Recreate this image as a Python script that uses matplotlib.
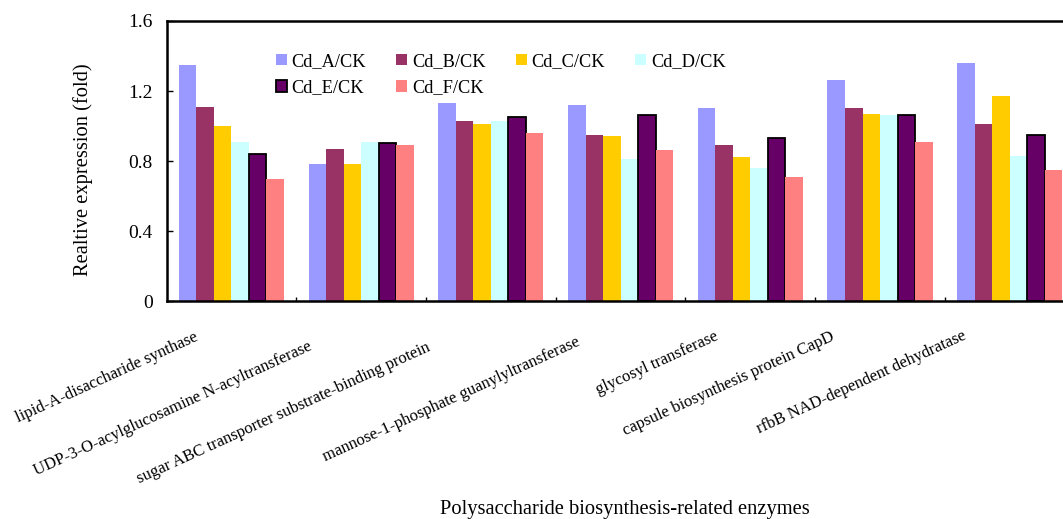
import matplotlib
matplotlib.use("Agg")
import matplotlib.pyplot as plt
import matplotlib.patches as pat
import numpy as np

plt.rcParams['font.family'] = ['Liberation Serif', 'DejaVu Serif']

enzymes = ["lipid-A-disaccharide synthase",
           "UDP-3-O-acylglucosamine N-acyltransferase",
           "sugar ABC transporter substrate-binding protein",
           "mannose-1-phosphate guanylyltransferase",
           "glycosyl transferase",
           "capsule biosynthesis protein CapD",
           "rfbB NAD-dependent dehydratase"]
series = ["Cd_A/CK", "Cd_B/CK", "Cd_C/CK", "Cd_D/CK", "Cd_E/CK", "Cd_F/CK"]
cd_a = [1.35, 0.78, 1.13, 1.12, 1.10, 1.26, 1.36]
cd_b = [1.11, 0.87, 1.03, 0.95, 0.89, 1.10, 1.01]
cd_c = [1.00, 0.78, 1.01, 0.94, 0.82, 1.07, 1.17]
cd_d = [0.91, 0.91, 1.03, 0.81, 0.76, 1.06, 0.83]
cd_e = [0.84, 0.90, 1.05, 1.06, 0.93, 1.06, 0.95]
cd_f = [0.70, 0.89, 0.96, 0.86, 0.71, 0.91, 0.75]
yticks = [0, 0.4, 0.8, 1.2, 1.6]
ytick_labels = ["0", "0.4", "0.8", "1.2", "1.6"]

colors = ["#9999FF", "#993366", "#FFCC00", "#CCFFFF", "#660066", "#FF8080"]
edges = ["none", "none", "none", "none", "black", "none"]
# label anchor shifts in pixels (dx, dy below axis)
label_shift = [(-33, 39), (-48, 48), (-60, 49), (-40, 44), (-31, 38), (-45, 39), (-43, 38)]

fig = plt.figure(figsize=(10.63, 5.19), dpi=100)
W, H = 1063, 519
ax = fig.add_axes([166.6 / W, (H - 301) / H, 908 / W, 280 / H])

x = np.arange(len(enzymes))
w = 0.135
data = [cd_a, cd_b, cd_c, cd_d, cd_e, cd_f]
for i, vals in enumerate(data):
    ax.bar(x + (i - 2.5) * w, vals, w, color=colors[i],
           edgecolor=edges[i], linewidth=1.3 if edges[i] != "none" else 0, zorder=1)

ax.set_xlim(-0.5, len(enzymes) - 0.5)
ax.set_ylim(0, 1.6)
ax.set_yticks(yticks)
ax.set_yticklabels(ytick_labels, fontsize=14)
ax.tick_params(axis='y', direction='in', length=4.5, width=1, pad=10)
ax.set_xticks(np.arange(0.5, len(enzymes) - 0.5))
ax.set_xticklabels([])
ax.tick_params(axis='x', direction='in', length=3, width=1)
for s in ax.spines.values():
    s.set_linewidth(1.8)

for i, name in enumerate(enzymes):
    dx, dy = label_shift[i]
    ax.annotate(name, xy=(x[i], 0), xycoords='data',
                xytext=(dx * 0.72, -dy * 0.72), textcoords='offset points',
                rotation=24.5, rotation_mode='anchor', ha='right', va='baseline',
                fontsize=12, annotation_clip=False)

ax.set_ylabel("Realtive expression (fold)", fontsize=14.8)
ax.yaxis.set_label_coords(-0.081, 0.47)
fig.text(625 / W, (H - 514) / H, "Polysaccharide biosynthesis-related enzymes",
         ha='center', va='baseline', fontsize=14.8)

handles = [pat.Patch(facecolor=colors[i], edgecolor=edges[i] if edges[i] != "none" else colors[i],
                     linewidth=1.3 if edges[i] != "none" else 0) for i in range(6)]
order = [0, 4, 1, 5, 2, 3]
ax.legend([handles[i] for i in order], [series[i] for i in order],
          ncol=4, loc='upper left', bbox_to_anchor=(276 / W, (H - 53) / H),
          bbox_transform=fig.transFigure, frameon=False, fontsize=13.2,
          handlelength=0.6, handleheight=0.6, handletextpad=0.25,
          columnspacing=1.65, labelspacing=0.5, borderpad=0, borderaxespad=0)

fig.savefig("out.png", dpi=100)
